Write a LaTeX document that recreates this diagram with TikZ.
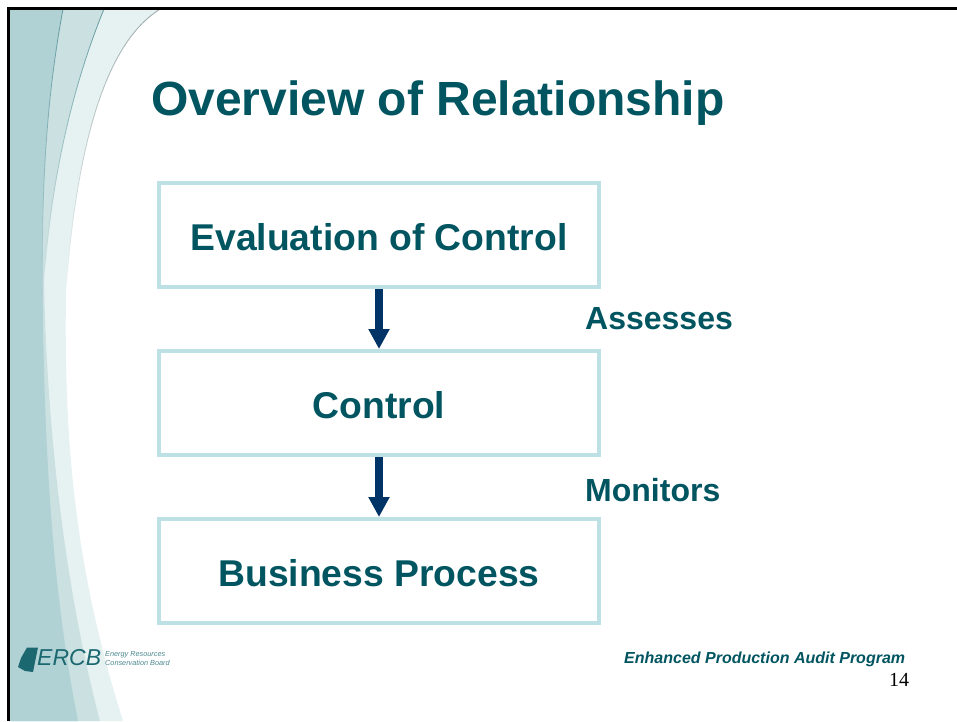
\documentclass[tikz,border=0pt]{standalone}
\usepackage{fontspec}
\setmainfont{Liberation Sans}
\newfontfamily\serifnum{Liberation Serif}
\usetikzlibrary{arrows.meta,fadings}
\definecolor{teal}{HTML}{005560}
\definecolor{boxline}{HTML}{BCE0E3}
\definecolor{arrowblue}{HTML}{003366}
\definecolor{zonedark}{HTML}{B1D2D5}
\definecolor{zonemid}{HTML}{CBE0E0}
\definecolor{zonelight}{HTML}{E6F1F2}
\tikzset{
  flowbox/.style={draw=boxline,line width=4pt,fill=white,minimum width=440pt,minimum height=104pt,inner sep=0pt,text height=30pt,text depth=0pt,text=teal,font=\bfseries\fontsize{37.3}{37.3}\selectfont},
  flowarrow/.style={draw=arrowblue,line width=8pt,-{Triangle[width=20pt,length=20pt]}},
  sidelabel/.style={anchor=base west,inner sep=0pt,text=teal,font=\bfseries\fontsize{32}{32}\selectfont},
  smalllogo/.style={anchor=base west,inner sep=0pt,text=teal!70!white,font=\itshape\fontsize{7.3}{7.3}\selectfont},
}
\begin{document}
\begin{tikzpicture}[x=1pt,y=-1pt]
\useasboundingbox (0,0) rectangle (957,721);
\fill[white] (0,0) rectangle (957,721);
% background swooshes
\fill[zonelight] (160,9) .. controls (110,40) and (78,130) .. (66,290) .. controls (64,430) and (72,560) .. (123,721) -- (9,721) -- (9,9) -- cycle;
\fill[zonemid] (104,9) .. controls (75,80) and (52,170) .. (44,280) .. controls (46,400) and (60,570) .. (100,721) -- (9,721) -- (9,9) -- cycle;
\fill[zonedark] (63,9) .. controls (48,90) and (40,180) .. (43,320) .. controls (45,450) and (52,590) .. (78,721) -- (9,721) -- (9,9) -- cycle;
\draw[color=gray!55!zonedark,line width=.8pt,path fading=south] (160,9) .. controls (110,40) and (78,130) .. (66,290);
\draw[color=teal!45!zonedark,line width=.8pt,path fading=south] (104,9) .. controls (75,80) and (52,170) .. (44,280);
\draw[color=teal!45!zonedark,line width=.8pt,path fading=south] (63,9) .. controls (48,90) and (40,180) .. (43,320);
% frame
\fill[black] (7,7) rectangle (957,10.3);
\fill[black] (7,7) rectangle (10.3,721);
% title
\node[anchor=base west,inner sep=0pt,text=teal,font=\bfseries\fontsize{48}{48}\selectfont] (title) at (151,115) {Overview of Relationship};
% boxes
\node[flowbox] (eval) at (379,235) {Evaluation of Control};
\node[flowbox] (ctrl) at (379,403) {Control};
\node[flowbox] (biz) at (379,571) {Business Process};
\draw[flowarrow] (eval) -- (ctrl);
\draw[flowarrow] (ctrl) -- (biz);
\node[sidelabel] (assess) at (585,329.5) {Assesses};
\node[sidelabel] (monit) at (585,501.5) {Monitors};
% footer
\node[anchor=base west,inner sep=0pt,text=teal,font=\bfseries\itshape\fontsize{16}{16}\selectfont] (foot) at (624,663) {Enhanced Production Audit Program};
\node[anchor=base west,inner sep=0pt,text=black,font=\serifnum\fontsize{20}{20}\selectfont] (num) at (889,686) {14};
% logo
\fill[teal!85!zonedark] (27,647.5) -- (38,647.5) -- (33,672) -- (25,671) -- (18,667) -- (21,658) -- cycle;
\node[anchor=base west,inner sep=0pt,text=teal!85!zonedark,font=\itshape\fontsize{23}{23}\selectfont] (ercb) at (37,665) {ERCB};
\node[smalllogo] (ea) at (105,656) {Energy Resources};
\node[smalllogo] (eb) at (105,665) {Conservation Board};
\end{tikzpicture}
\end{document}
